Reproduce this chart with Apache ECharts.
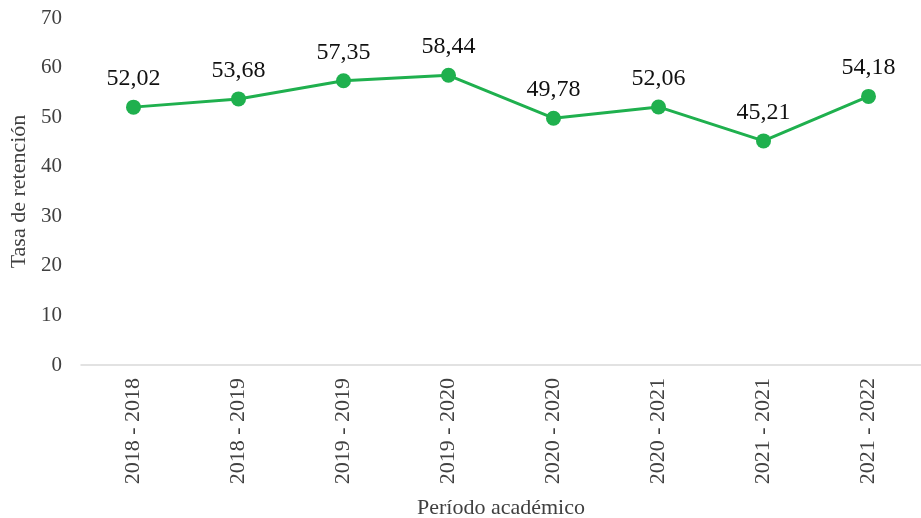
<!DOCTYPE html>
<html>
<head>
<meta charset="utf-8">
<script src="https://cdn.jsdelivr.net/npm/echarts@6/dist/echarts.min.js"></script>
<style>
  html, body { margin: 0; padding: 0; background: #fff; }
  #chart { width: 921px; height: 518px; }
</style>
</head>
<body>
<div id="chart"></div>
<script>
    // datos
    var periodos = ["2018 - 2018", "2018 - 2019", "2019 - 2019", "2019 - 2020",
        "2020 - 2020", "2020 - 2021", "2021 - 2021", "2021 - 2022"];
    var retencion = [52.02, 53.68, 57.35, 58.44, 49.78, 52.06, 45.21, 54.18];
    var yTicks = [0, 10, 20, 30, 40, 50, 60, 70];

    var font = "'Liberation Serif', 'DejaVu Serif', serif";
    var myChart = echarts.init(document.getElementById('chart'));
    var option = {
        animation: false,
        grid: {
            left: 81,
            right: 0,
            top: 18,
            bottom: 153,
            outerBoundsMode: "none",
            containLabel: false
        },
        xAxis: {
            type: "category",
            data: periodos,
            boundaryGap: true,
            name: "Período académico",
            nameLocation: "middle",
            nameGap: 132,
            nameTextStyle: { fontFamily: font, fontSize: 22, color: "#404040" },
            axisLine: { lineStyle: { color: "#d9d9d9", width: 1.5 } },
            axisTick: { show: false },
            axisLabel: {
                rotate: 90,
                margin: 13,
                fontFamily: font,
                fontSize: 22,
                color: "#404040"
            }
        },
        yAxis: {
            type: "value",
            min: yTicks[0],
            max: yTicks[yTicks.length - 1],
            interval: 10,
            name: "Tasa de retención",
            nameLocation: "middle",
            nameGap: 50,
            nameTextStyle: { fontFamily: font, fontSize: 22, color: "#404040" },
            axisLine: { show: false },
            axisTick: { show: false },
            splitLine: { show: false },
            axisLabel: {
                margin: 19,
                fontFamily: font,
                fontSize: 21,
                color: "#404040"
            }
        },
        series: [
            {
                type: "line",
                data: retencion,
                symbol: "circle",
                symbolSize: 15,
                lineStyle: { color: "#1fb04e", width: 3 },
                itemStyle: { color: "#1fb04e" },
                label: {
                    show: true,
                    position: "top",
                    distance: 9,
                    fontFamily: font,
                    fontSize: 24,
                    color: "#111",
                    formatter: function (p) {
                        return p.value.toFixed(2).replace(".", ",");
                    }
                }
            }
        ]
    };
    myChart.setOption(option);
</script>
</body>
</html>
